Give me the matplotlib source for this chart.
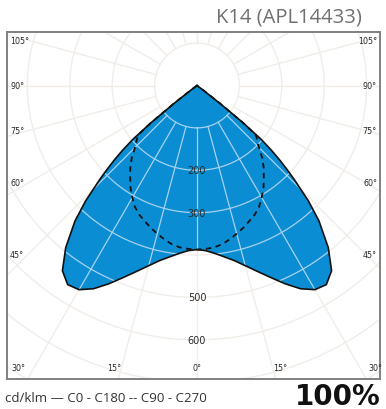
import numpy as np
import matplotlib
matplotlib.use('Agg')
import matplotlib.pyplot as plt

# luminous intensity, cd/klm, per angle from nadir (symmetric planes)
gamma = np.array([0, 3, 6, 9, 12, 15, 18, 21, 24, 27, 30, 33, 36, 39, 42, 44,
                  46, 47, 48, 49, 50, 51, 52, 53, 54, 70, 90])
c0_c180 = np.array([387, 390, 398, 409, 422, 440, 461, 485, 512, 538, 556, 560,
                    540, 492, 430, 378, 318, 290, 262, 232, 197, 140, 70, 20, 0,
                    0, 0])
c90_c270 = np.array([387, 386, 384, 379, 371, 362, 353, 343, 334, 322, 305, 288,
                     268, 250, 230, 214, 200, 196, 191, 186, 180, 140, 70, 20, 0,
                     0, 0])

ring_values = [100, 200, 300, 400, 500, 600, 700, 800]
ring_labels = [200, 300, 500, 600]
ray_angles = np.arange(-180, 181, 15)
side_angles = [105, 90, 75, 60, 45]
bottom_angles = [30, 15, 0]

title = "K14 (APL14433)"
legend_text = "cd/klm \u2014 C0 - C180 -- C90 - C270"
ratio_text = "100%"


def to_xy(g_deg, r):
    g = np.radians(g_deg)
    return r * np.sin(g), -r * np.cos(g)


def mirror(g, v):
    return np.concatenate([-g[::-1], g[1:]]), np.concatenate([v[::-1], v[1:]])


W, H = 386, 410
fig = plt.figure(figsize=(W / 100, H / 100), dpi=100)

px = 0.424            # pixels per cd/klm
cx, cy = 197, 86.5    # pole position in pixels
left, right, top, bottom = 7, 380, 33, 380
ax = fig.add_axes([left / W, 1 - bottom / H, (right - left) / W, (bottom - top) / H])
ax.set_xlim((left - cx) / px, (right - cx) / px)
ax.set_ylim(-(bottom - cy) / px, (cy - top) / px)
ax.set_xticks([])
ax.set_yticks([])
for s in ax.spines.values():
    s.set_color('#808080')
    s.set_linewidth(1.4)


def draw_grid(color, lw, z, clip=None):
    t = np.linspace(0, 360, 361)
    lines = []
    for r in ring_values:
        x, y = to_xy(t, r)
        lines += ax.plot(x, y, color=color, lw=lw, zorder=z)
    for a in ray_angles:
        x, y = to_xy(np.array([a, a]), np.array([100, 1200]))
        lines += ax.plot(x, y, color=color, lw=lw, zorder=z)
    if clip is not None:
        for ln in lines:
            ln.set_clip_path(clip)


draw_grid('#f1ede9', 1.0, 1)

g_full, v_full = mirror(gamma, c0_c180)
x0, y0 = to_xy(g_full, v_full)
poly = ax.fill(x0, y0, color='#0a8dd3', zorder=2, lw=0)[0]
draw_grid('#a6d2ef', 0.9, 3, clip=poly)
ax.plot(x0, y0, color='#111111', lw=1.2, zorder=4)

g_full, v_full = mirror(gamma, c90_c270)
x1, y1 = to_xy(g_full, v_full)
ax.plot(x1, y1, color='#111111', lw=1.3, ls=(0, (3, 2.5)), zorder=5)

lab = dict(color='#2a2a2a', zorder=6, family='DejaVu Sans')
for r in ring_labels:
    ax.text(0, -r, str(r), ha='center', va='center', fontsize=7, **lab)

xl, xr = (10 - cx) / px, (377 - cx) / px
for a in side_angles:
    yy = -398 / np.tan(np.radians(a)) if a != 90 else 0
    ax.text(xl, yy, f"{a}\u00b0", ha='left', va='center', fontsize=5.8, **lab)
    ax.text(xr, yy, f"{a}\u00b0", ha='right', va='center', fontsize=5.8, **lab)

yb = -(369 - cy) / px
for a in bottom_angles:
    xx = 730 * np.tan(np.radians(a))
    ax.text(-xx, yb, f"{a}\u00b0", ha='center', va='center', fontsize=5.8, **lab)
    if a != 0:
        ax.text(xx, yb, f"{a}\u00b0", ha='center', va='center', fontsize=5.8, **lab)

fig.text(362 / W, 1 - 18 / H, title, ha='right', va='center', fontsize=14.5,
         color='#707070', family='Open Sans')
fig.text(5 / W, 1 - 399 / H, legend_text, ha='left', va='center', fontsize=9.5,
         color='#333333', family='Open Sans')
fig.text(381 / W, 1 - 397 / H, ratio_text, ha='right', va='center', fontsize=20,
         color='#111111', family='DejaVu Sans', fontweight='bold')

fig.savefig('out.png', dpi=100)
